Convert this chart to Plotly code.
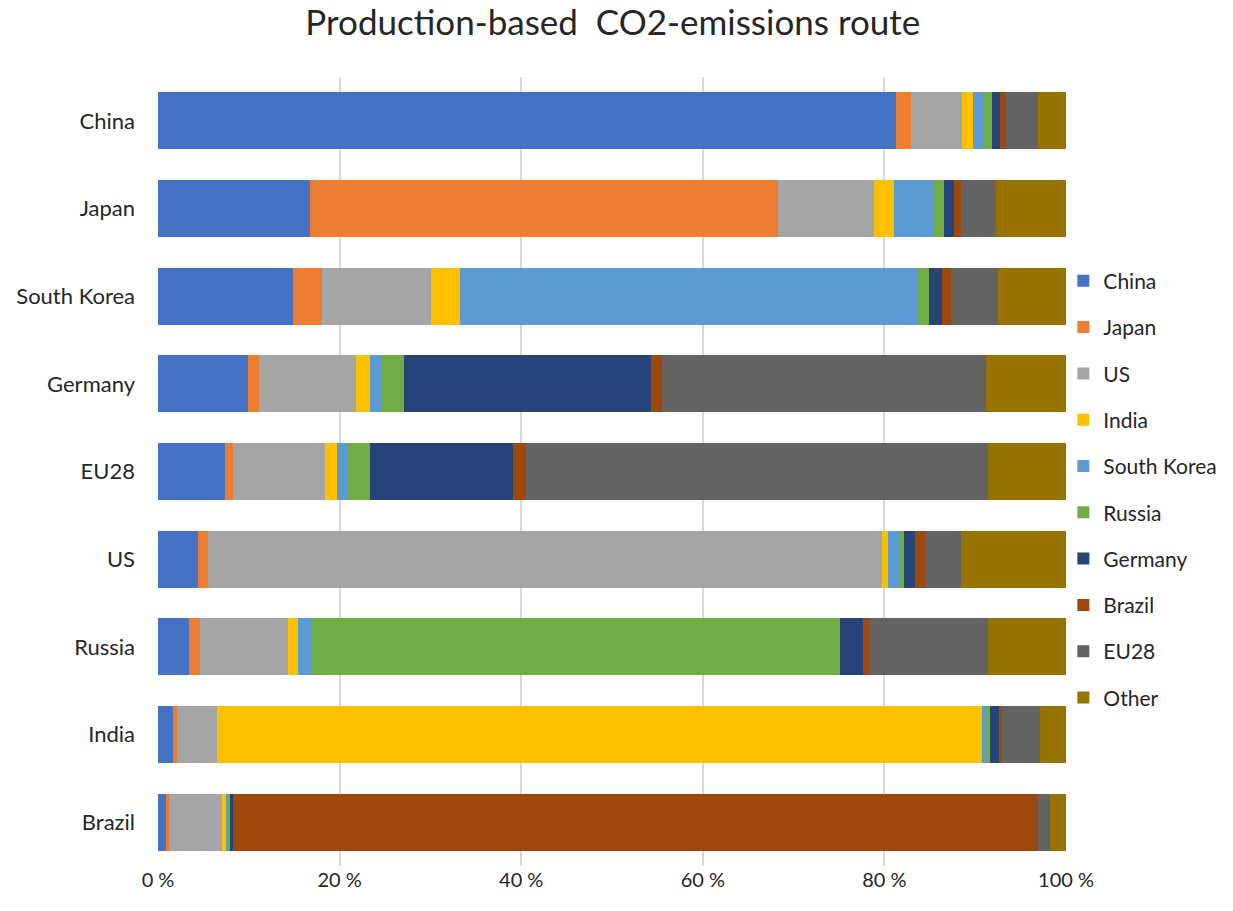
import plotly.graph_objects as go

# Emitting regions (bars), top to bottom
regions = ["China", "Japan", "South Korea", "Germany", "EU28", "US", "Russia", "India", "Brazil"]

# Share of each region's production-based CO2 emissions routed through each destination (%)
china = [81.3, 16.7, 14.9, 9.9, 7.4, 4.4, 3.4, 1.7, 0.9]
japan = [1.6, 51.6, 3.2, 1.2, 0.9, 1.1, 1.2, 0.4, 0.3]
us = [5.7, 10.5, 12.0, 10.7, 10.1, 74.2, 9.7, 4.4, 5.9]
india = [1.2, 2.3, 3.2, 1.6, 1.3, 0.7, 1.1, 84.2, 0.4]
south_korea = [1.1, 4.3, 50.4, 1.2, 1.2, 1.3, 1.6, 0.5, 0.3]
russia = [0.9, 1.2, 1.2, 2.5, 2.5, 0.5, 58.1, 0.4, 0.1]
germany = [0.9, 1.1, 1.4, 27.2, 15.7, 1.2, 2.5, 1.0, 0.4]
brazil = [0.7, 0.7, 1.0, 1.2, 1.4, 1.1, 0.7, 0.4, 88.6]
eu28 = [3.5, 3.9, 5.2, 35.7, 50.9, 3.9, 13.1, 4.1, 1.3]
other = [3.1, 7.7, 7.5, 8.8, 8.6, 11.6, 8.6, 2.9, 1.8]

series = [
    ("China", china, "#4472C4"),
    ("Japan", japan, "#ED7D31"),
    ("US", us, "#A5A5A5"),
    ("India", india, "#FFC000"),
    ("South Korea", south_korea, "#5B9BD5"),
    ("Russia", russia, "#70AD47"),
    ("Germany", germany, "#264478"),
    ("Brazil", brazil, "#9E480E"),
    ("EU28", eu28, "#636363"),
    ("Other", other, "#997300"),
]

x_ticks = [0, 20, 40, 60, 80, 100]
x_tick_text = ["0 %", "20 %", "40 %", "60 %", "80 %", "100 %"]

FONT = "Lato"
TEXT_COLOR = "#262626"

fig = go.Figure()
for name, values, color in series:
    fig.add_trace(go.Bar(
        y=regions,
        x=values,
        name=name,
        orientation="h",
        marker=dict(color=color, line=dict(width=0)),
        legendgroup=name,
    ))

fig.update_layout(
    width=1233,
    height=911,
    barmode="stack",
    barnorm="percent",
    bargap=0.35,
    plot_bgcolor="white",
    paper_bgcolor="white",
    margin=dict(l=158, r=166, t=77, b=45),
    font=dict(family=FONT, size=21, color=TEXT_COLOR),
    title=dict(
        text="Production-based\u00a0\u00a0CO2-emissions route",
        x=0.497,
        xanchor="center",
        y=0.975,
        yanchor="middle",
        font=dict(family=FONT, size=35, color=TEXT_COLOR),
    ),
    xaxis=dict(
        range=[0, 100],
        tickvals=x_ticks,
        ticktext=x_tick_text,
        showgrid=True,
        gridcolor="#D9D9D9",
        gridwidth=2,
        zeroline=False,
        showline=False,
        ticks="",
        tickfont=dict(size=20),
    ),
    yaxis=dict(
        autorange="reversed",
        showgrid=False,
        zeroline=False,
        showline=False,
        ticks="",
        ticklabelstandoff=22,
        tickfont=dict(size=22),
    ),
    legend=dict(
        x=0.996,
        xanchor="left",
        y=0.477,
        yanchor="middle",
        traceorder="grouped",
        tracegroupgap=16,
        bgcolor="rgba(0,0,0,0)",
        font=dict(size=21),
        itemwidth=30,
    ),
)

fig.write_html("out.html")
